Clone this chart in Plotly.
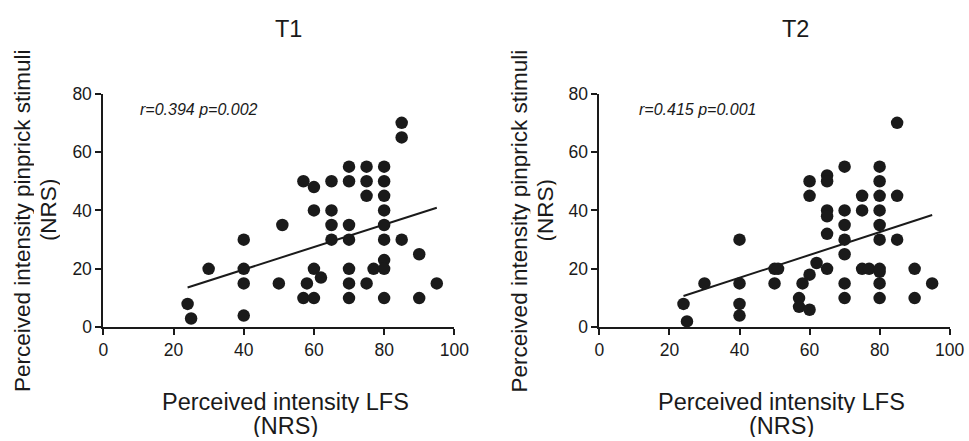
import numpy as np
import plotly.graph_objects as go

# T1 data: perceived intensity LFS (x) vs perceived intensity pinprick (y)
t1_lfs = [24, 25, 30, 40, 40, 40, 40, 50, 51, 57, 57, 58, 60, 60, 60, 60, 62,
          65, 65, 65, 65, 70, 70, 70, 70, 70, 70, 70, 75, 75, 75, 75, 77,
          80, 80, 80, 80, 80, 80, 80, 80, 80, 85, 85, 85, 90, 90, 95]
t1_pin = [8, 3, 20, 30, 20, 15, 4, 15, 35, 50, 10, 15, 48, 40, 20, 10, 17,
          50, 40, 35, 30, 55, 50, 35, 30, 20, 15, 10, 55, 50, 45, 15, 20,
          55, 50, 45, 40, 35, 30, 23, 20, 10, 70, 65, 30, 25, 10, 15]

# T2 data
t2_lfs = [24, 25, 30, 40, 40, 40, 40, 50, 51, 50, 57, 57, 58, 60, 60, 60, 60, 62,
          65, 65, 65, 65, 65, 65, 70, 70, 70, 70, 70, 70, 70, 75, 75, 75, 77,
          80, 80, 80, 80, 80, 80, 80, 80, 80, 80, 85, 85, 85, 90, 90, 95]
t2_pin = [8, 2, 15, 30, 15, 8, 4, 20, 20, 15, 10, 7, 15, 50, 45, 18, 6, 22,
          52, 50, 40, 38, 32, 20, 55, 40, 35, 30, 25, 15, 10, 45, 40, 20, 20,
          55, 50, 45, 40, 35, 30, 20, 19, 15, 10, 70, 45, 30, 20, 10, 15]

panel_titles = ["T1", "T2"]
stats_text = ["r=0.394 p=0.002", "r=0.415 p=0.001"]
x_ticks = [0, 20, 40, 60, 80, 100]
y_ticks = [0, 20, 40, 60, 80]
x_title = ["Perceived intensity LFS", "(NRS)"]
y_title = ["Perceived intensity pinprick stimuli", "(NRS)"]

W, H = 985, 451
FONT = "Liberation Sans, Arial, Helvetica, sans-serif"
INK = "#1a1a1a"

fig = go.Figure()

datasets = [(t1_lfs, t1_pin), (t2_lfs, t2_pin)]
for i, (xs, ys) in enumerate(datasets):
    xa = "x" if i == 0 else "x2"
    ya = "y" if i == 0 else "y2"
    xs_a = np.array(xs, dtype=float)
    ys_a = np.array(ys, dtype=float)
    slope, intercept = np.polyfit(xs_a, ys_a, 1)
    lx = np.array([xs_a.min(), xs_a.max()])
    ly = slope * lx + intercept
    fig.add_trace(go.Scatter(x=lx, y=ly, mode="lines", xaxis=xa, yaxis=ya,
                             line=dict(color=INK, width=2),
                             showlegend=False, hoverinfo="skip"))
    fig.add_trace(go.Scatter(x=xs, y=ys, mode="markers", xaxis=xa, yaxis=ya,
                             marker=dict(color=INK, size=12.5, line=dict(width=0)),
                             showlegend=False, cliponaxis=False))

# map a target position in the final picture to the page position
def px_x(p):
    return ((p - 5) / 0.979) / W

def px_y(p):
    return 1 - ((p - 8) / 0.96) / H

dom_x = [[px_x(103.3), px_x(454)], [px_x(599), px_x(949)]]
dom_y = [px_y(326.7), px_y(92)]

axis_common = dict(showline=True, linecolor=INK, linewidth=2,
                   ticks="outside", ticklen=6, tickwidth=2, tickcolor=INK,
                   showgrid=False, zeroline=False,
                   tickfont=dict(family=FONT, size=17.5, color=INK))

fig.update_layout(
    width=W, height=H,
    margin=dict(l=0, r=0, t=0, b=0),
    paper_bgcolor="white", plot_bgcolor="white",
    font=dict(family=FONT, color=INK),
    xaxis=dict(domain=dom_x[0], range=[0, 100], tickvals=x_ticks, anchor="y", **axis_common),
    yaxis=dict(domain=dom_y, range=[0, 80], tickvals=y_ticks, anchor="x", **axis_common),
    xaxis2=dict(domain=dom_x[1], range=[0, 100], tickvals=x_ticks, anchor="y2", **axis_common),
    yaxis2=dict(domain=dom_y, range=[0, 80], tickvals=y_ticks, anchor="x2", **axis_common),
)

annotations = []
title_cx = [288, 795]
xtitle_cx = [285, 781]
ytitle_cx = [[23, 49], [519, 545]]
for i in range(2):
    annotations.append(dict(text=panel_titles[i], x=px_x(title_cx[i]), y=px_y(27),
                            xref="paper", yref="paper", showarrow=False,
                            xanchor="center", yanchor="middle",
                            font=dict(family=FONT, size=23.5, color=INK)))
    annotations.append(dict(text="<i>" + stats_text[i] + "</i>",
                            x=10 if i == 0 else 10.8, y=74.7,
                            xref="x" if i == 0 else "x2", yref="y" if i == 0 else "y2",
                            showarrow=False, xanchor="left", yanchor="middle",
                            font=dict(family=FONT, size=16, color=INK)))
    for j, yy in enumerate([402, 426]):
        annotations.append(dict(text=x_title[j], x=px_x(xtitle_cx[i]), y=px_y(yy),
                                xref="paper", yref="paper", showarrow=False,
                                xanchor="center", yanchor="middle", height=22,
                                font=dict(family=FONT, size=23.5, color=INK)))
    for j, cy in enumerate([220, 209]):
        annotations.append(dict(text=y_title[j], x=px_x(ytitle_cx[i][j]), y=px_y(cy),
                                xref="paper", yref="paper", showarrow=False,
                                textangle=-90, xanchor="center", yanchor="middle", height=22,
                                font=dict(family=FONT, size=22.5, color=INK)))
fig.update_layout(annotations=annotations)

fig.write_html("out.html", config={"displayModeBar": False},
               post_script="document.body.style.margin='0px';")
